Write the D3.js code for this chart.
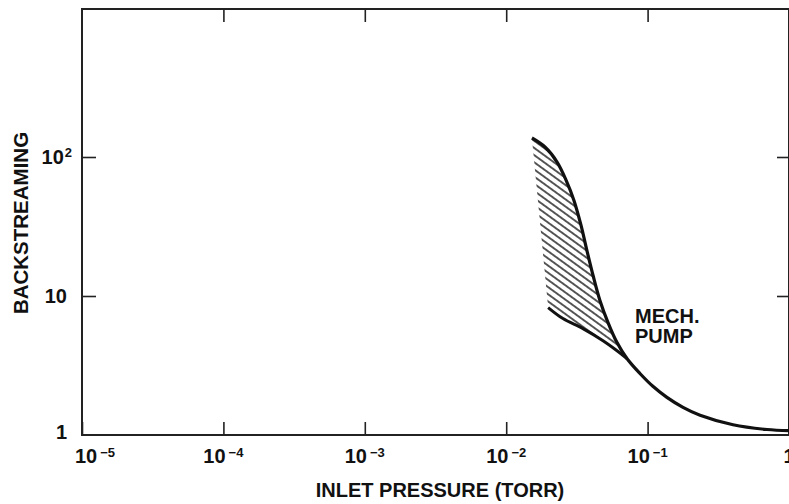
<!DOCTYPE html>
<html>
<head>
<meta charset="utf-8">
<script src="https://cdn.jsdelivr.net/npm/d3@7"></script>
<style>
  body { margin: 0; background: #fff; }
  svg { display: block; }
  text { font-family: "Liberation Sans", Arial, Helvetica, sans-serif; font-weight: bold; fill: #111; }
</style>
</head>
<body>
<div class="chart"></div>
<script>
// data
var xTicks = [1e-5, 1e-4, 1e-3, 1e-2, 1e-1, 1];
var xTickExp = ["\u22125", "\u22124", "\u22123", "\u22122", "\u22121", ""];
var yTicks = [1, 10, 100];
var yTickExp = ["", "", "2"];

// mech. pump curve (upper edge of band, runs on to 1 torr)
var upperX = [0.0152, 0.0188, 0.0229, 0.0265, 0.0301, 0.0338, 0.0372, 0.0411, 0.0460, 0.0525,
              0.0608, 0.0714, 0.0883, 0.109, 0.137, 0.178, 0.235, 0.402, 0.698, 1.0];
var upperY = [137, 118, 92, 68.2, 48.9, 32.3, 21.3, 14.1, 9.28, 6.44,
              4.62, 3.55, 2.77, 2.24, 1.865, 1.58, 1.386, 1.184, 1.095, 1.075];
// lower edge of band
var lowerX = [0.0198, 0.0252, 0.0349, 0.0484, 0.0608, 0.0714];
var lowerY = [8.26, 6.88, 5.83, 4.77, 4.04, 3.55];

var svgWidth = 789, svgHeight = 504;

var svg = d3.select(".chart").append("svg")
    .attr("width", svgWidth)
    .attr("height", svgHeight);

var x = d3.scaleLog().domain([1e-5, 1]).range([82, 789]);
var y = d3.scaleLog().domain([1, Math.pow(10, 426 / 139)]).range([435, 9]);

// hatch pattern
var defs = svg.append("defs");
var pat = defs.append("pattern")
    .attr("id", "hatch")
    .attr("patternUnits", "userSpaceOnUse")
    .attr("width", 12)
    .attr("height", 5.8)
    .attr("patternTransform", "rotate(36)");
pat.append("line")
    .attr("x1", 0).attr("y1", 2.9).attr("x2", 12).attr("y2", 2.9)
    .attr("stroke", "#111").attr("stroke-width", 1.4);

// frame
svg.append("rect")
    .attr("x", x(1e-5)).attr("y", y.range()[1])
    .attr("width", x(1) - x(1e-5))
    .attr("height", y(1) - y.range()[1])
    .attr("fill", "none").attr("stroke", "#222").attr("stroke-width", 2);

// ticks (inward)
var bottomAxis = d3.axisBottom(x).tickValues(xTicks).tickSize(-13).tickSizeOuter(0).tickFormat("");
var topAxis = d3.axisTop(x).tickValues(xTicks.slice(1, 5)).tickSize(-13).tickSizeOuter(0).tickFormat("");
var leftAxis = d3.axisLeft(y).tickValues(yTicks.slice(1)).tickSize(-14).tickSizeOuter(0).tickFormat("");
var rightAxis = d3.axisRight(y).tickValues(yTicks.slice(1)).tickSize(-12).tickSizeOuter(0).tickFormat("");

function styleAxis(g) {
    g.select(".domain").remove();
    g.selectAll(".tick line").attr("stroke", "#222").attr("stroke-width", 1.6);
}
svg.append("g").attr("transform", "translate(0," + y(1) + ")").call(bottomAxis).call(styleAxis);
svg.append("g").attr("transform", "translate(0," + y.range()[1] + ")").call(topAxis).call(styleAxis);
svg.append("g").attr("transform", "translate(" + x(1e-5) + ",0)").call(leftAxis).call(styleAxis);
svg.append("g").attr("transform", "translate(" + x(1) + ",0)").call(rightAxis).call(styleAxis);

// x tick labels
var xl = svg.append("g").selectAll("text")
    .data(xTicks)
    .enter().append("text")
    .attr("x", function(d, i) { return x(d) + (i === 0 ? 13 : 0); })
    .attr("y", 463)
    .attr("text-anchor", "middle")
    .style("font-size", "20px");
xl.append("tspan").text(function(d, i) { return xTickExp[i] ? "10" : "1"; });
xl.append("tspan")
    .attr("dx", 3).attr("dy", -6)
    .style("font-size", "13px")
    .text(function(d, i) { return xTickExp[i]; });

// y tick labels
var yl = svg.append("g").selectAll("text")
    .data(yTicks)
    .enter().append("text")
    .attr("x", function(d, i) { return yTickExp[i] ? 72 : 67; })
    .attr("y", function(d) { return Math.min(y(d) + 7, 439); })
    .attr("text-anchor", "end")
    .style("font-size", "20px");
yl.append("tspan").text(function(d) { return d === 1 ? "1" : "10"; });
yl.append("tspan")
    .attr("dx", 1).attr("dy", -7)
    .style("font-size", "13px")
    .text(function(d, i) { return yTickExp[i]; });

// axis titles
svg.append("text")
    .attr("x", 440).attr("y", 497)
    .attr("text-anchor", "middle")
    .style("font-size", "20px")
    .text("INLET PRESSURE (TORR)");

svg.append("text")
    .attr("transform", "translate(28,223) rotate(-90)")
    .attr("text-anchor", "middle")
    .style("font-size", "20.5px")
    .text("BACKSTREAMING");

// curves
var upper = upperX.map(function(d, i) { return [x(d), y(upperY[i])]; });
var lower = lowerX.map(function(d, i) { return [x(d), y(lowerY[i])]; });
var line = d3.line().curve(d3.curveCatmullRom.alpha(0.5));

var mergeX = lowerX[lowerX.length - 1];
var upperSeg = upper.filter(function(p, i) { return upperX[i] <= mergeX; });
var hatchPath = line(upperSeg) + line(lower.slice().reverse()).replace(/^M/, "L") + "Z";

svg.append("path")
    .attr("d", hatchPath)
    .attr("fill", "url(#hatch)")
    .attr("stroke", "none");

svg.append("path")
    .attr("d", line(upper))
    .attr("fill", "none").attr("stroke", "#111").attr("stroke-width", 3.2);

svg.append("path")
    .attr("d", line(lower))
    .attr("fill", "none").attr("stroke", "#111").attr("stroke-width", 3);

// curve label
var lab = svg.append("text")
    .attr("x", 635).attr("y", 323)
    .style("font-size", "20px");
lab.append("tspan").attr("x", 635).text("MECH.");
lab.append("tspan").attr("x", 635).attr("dy", 20).text("PUMP");
</script>
</body>
</html>
